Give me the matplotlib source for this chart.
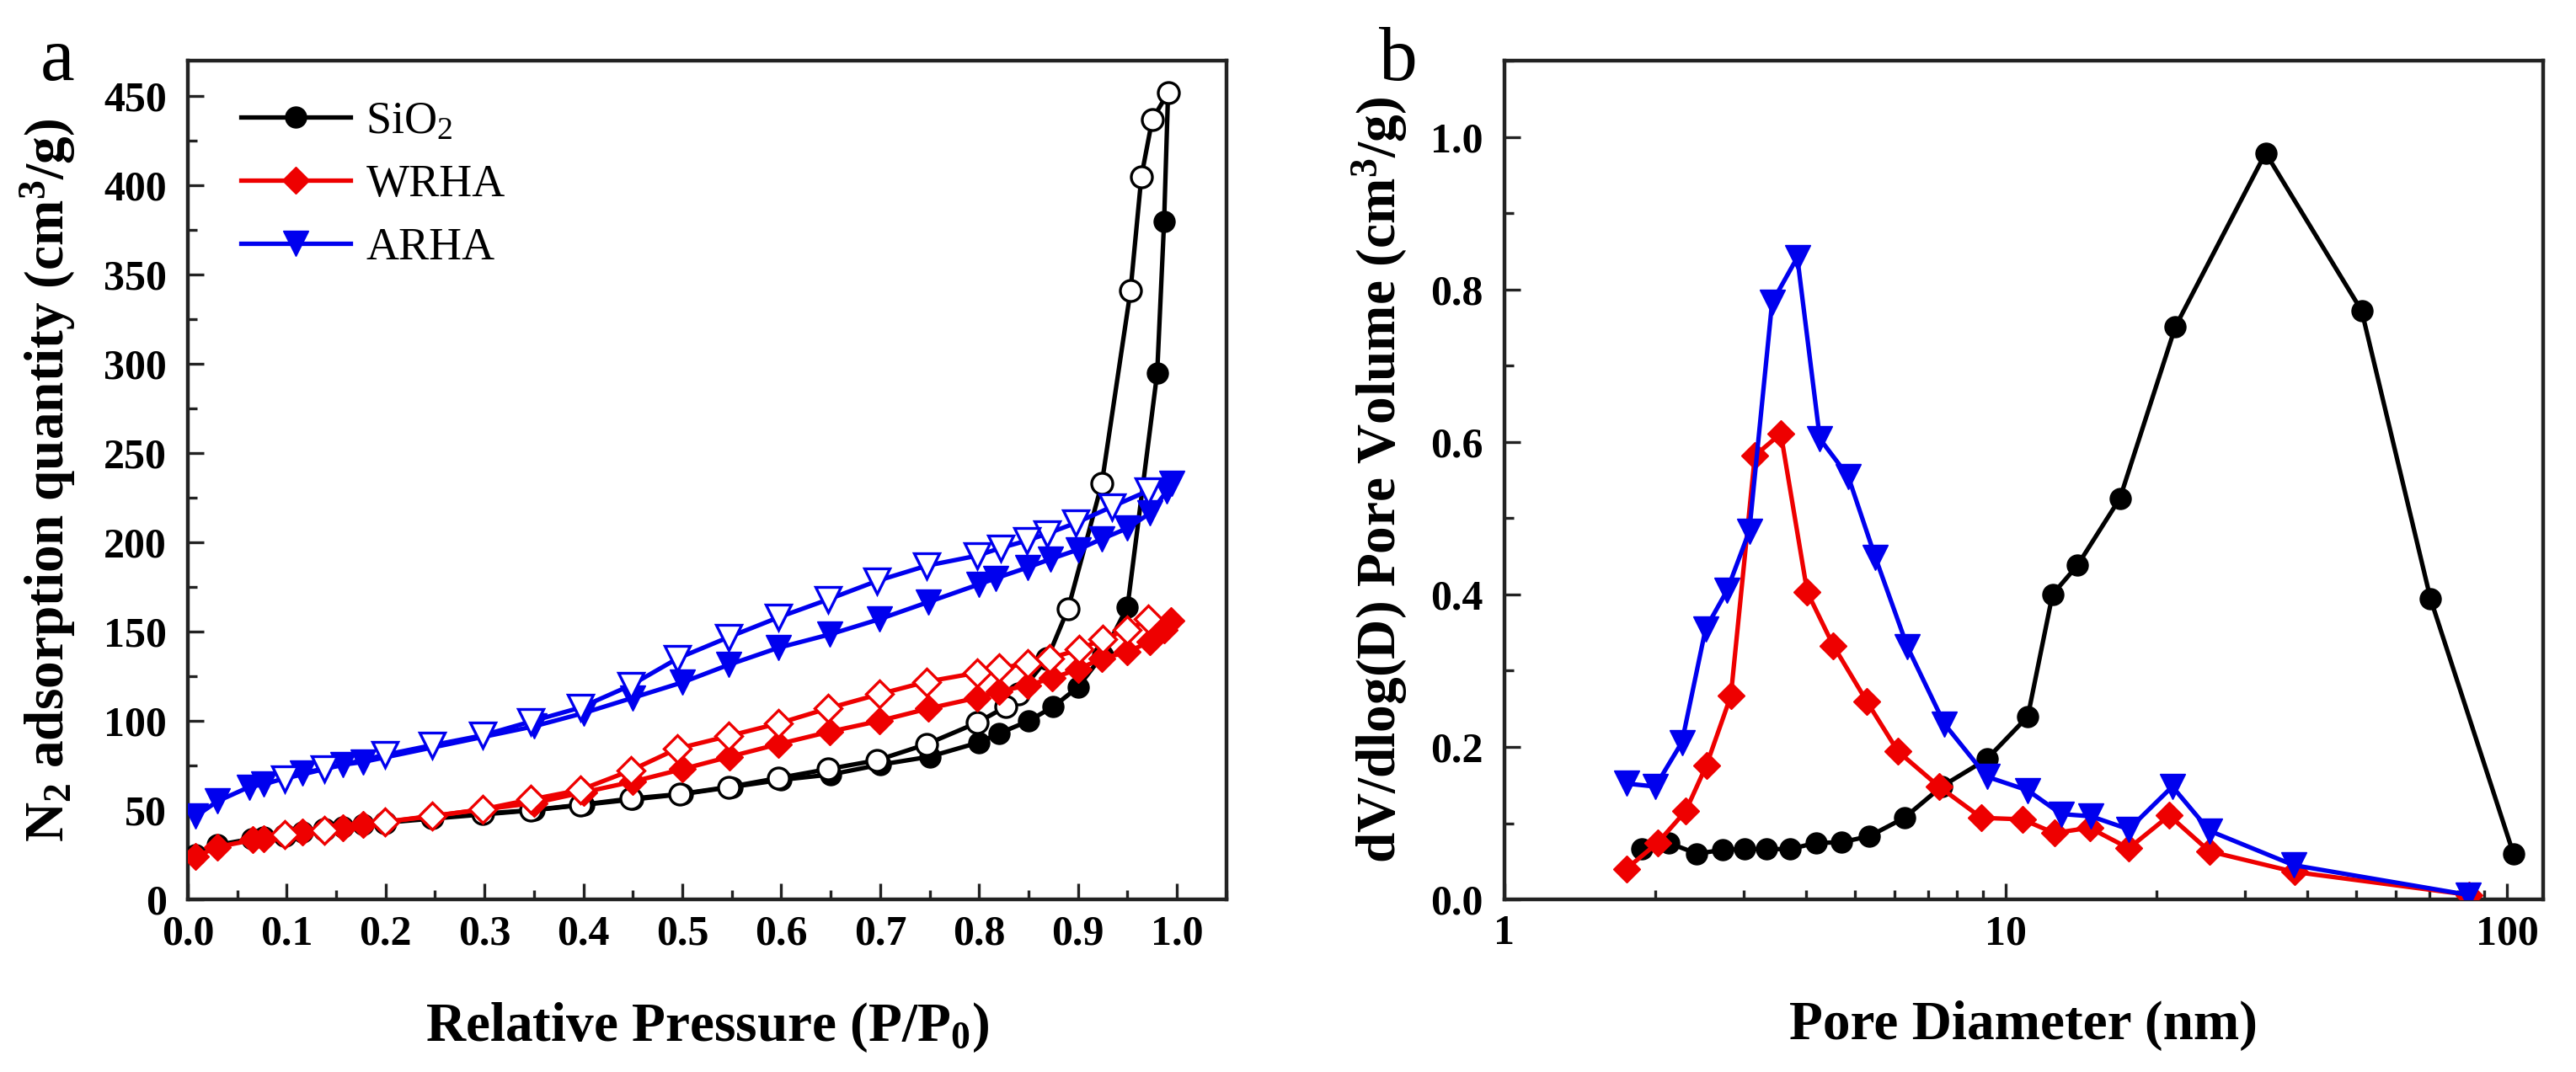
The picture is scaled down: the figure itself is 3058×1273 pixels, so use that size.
import matplotlib
matplotlib.use("Agg")
import matplotlib.pyplot as plt
from matplotlib.ticker import MultipleLocator, LogLocator, NullFormatter, FixedLocator, FixedFormatter

plt.rcParams['font.family'] = ['Liberation Serif', 'DejaVu Serif']
plt.rcParams['mathtext.fontset'] = 'custom'
plt.rcParams['mathtext.rm'] = 'Liberation Serif'
plt.rcParams['mathtext.bf'] = 'Liberation Serif:bold'
plt.rcParams['mathtext.it'] = 'Liberation Serif:italic'

# ---------------- Panel a data (N2 isotherms) ----------------
sio2_ads_p = [0.008, 0.03, 0.065, 0.077, 0.116, 0.157, 0.177, 0.35, 0.4, 0.45, 0.5, 0.55, 0.6, 0.65,
              0.7, 0.75, 0.8, 0.82, 0.85, 0.875, 0.9, 0.925, 0.95, 0.98, 0.987, 0.991]
sio2_ads_v = [25, 30.5, 34, 35, 38, 40.5, 42, 50, 53, 56, 59, 63, 67, 70,
              75.5, 80, 88, 93, 100, 108, 119, 137, 164, 295, 380, 452]
sio2_des_p = [0.991, 0.975, 0.964, 0.953, 0.924, 0.89, 0.869, 0.84, 0.827, 0.798, 0.747, 0.697,
              0.647, 0.597, 0.547, 0.497, 0.448, 0.397, 0.347, 0.298, 0.247, 0.199, 0.138, 0.098]
sio2_des_v = [452, 437, 405, 341, 233, 163, 135, 115, 108, 99, 87, 78,
              73, 68, 63, 59, 56.5, 53, 50, 48, 46, 43, 39, 36]

wrha_ads_p = [0.008, 0.03, 0.066, 0.077, 0.116, 0.157, 0.177, 0.35, 0.4, 0.45, 0.5, 0.548, 0.597,
              0.649, 0.699, 0.749, 0.798, 0.82, 0.849, 0.874, 0.9, 0.924, 0.95, 0.973, 0.987, 0.994]
wrha_ads_v = [24, 29.4, 33.3, 34, 38, 40.3, 41.9, 54, 60, 66, 73, 80, 87,
              94, 100, 107, 113, 116.5, 120, 124, 129, 135, 138.6, 144.6, 151, 156]
wrha_des_p = [0.971, 0.95, 0.925, 0.901, 0.871, 0.849, 0.82, 0.798, 0.747, 0.699, 0.647, 0.597,
              0.547, 0.495, 0.448, 0.397, 0.347, 0.298, 0.247, 0.199, 0.138, 0.098]
wrha_des_v = [157, 151, 146, 140, 135, 132, 129.7, 127, 122, 115, 107, 98.6,
              91.6, 84.5, 72.3, 61.4, 56, 50.5, 46.6, 43.4, 38.8, 36.4]

arha_ads_p = [0.008, 0.03, 0.062, 0.077, 0.116, 0.157, 0.177, 0.35, 0.4, 0.45, 0.5, 0.547, 0.597,
              0.649, 0.699, 0.749, 0.8, 0.817, 0.849, 0.872, 0.9, 0.924, 0.95, 0.973, 0.99, 0.995]
arha_ads_v = [46.6, 55, 63, 64.5, 70.8, 75.5, 77, 97, 104.4, 113, 121.6, 131.5, 141,
              148.5, 157, 166.7, 176.6, 180, 186, 190.7, 196, 202, 208, 216.5, 229, 233]
arha_des_p = [0.971, 0.934, 0.898, 0.869, 0.848, 0.822, 0.798, 0.747, 0.697, 0.647, 0.597, 0.547,
              0.495, 0.448, 0.397, 0.347, 0.298, 0.247, 0.199, 0.138, 0.098]
arha_des_v = [229, 220, 211, 205, 201, 197, 192.6, 187, 178.5, 168, 158, 147,
              135, 120, 107.5, 99.7, 91.9, 86.4, 81, 73, 67.7]

# ---------------- Panel b data (pore size distribution) ----------------
sio2_d = [1.88, 2.13, 2.42, 2.73, 3.01, 3.33, 3.71, 4.18, 4.71, 5.35, 6.28, 7.45, 9.17, 11.07,
          12.4, 13.9, 16.9, 21.8, 33.0, 51.3, 70.4, 103.0]
sio2_pv = [0.066, 0.074, 0.060, 0.065, 0.066, 0.066, 0.066, 0.074, 0.075, 0.083, 0.107, 0.148, 0.184, 0.240,
           0.400, 0.438, 0.526, 0.751, 0.979, 0.772, 0.394, 0.060]
wrha_d = [1.75, 2.02, 2.30, 2.53, 2.83, 3.16, 3.56, 4.02, 4.53, 5.28, 6.10, 7.36, 8.95, 10.8,
          12.5, 14.7, 17.6, 21.2, 25.5, 37.7, 83.9]
wrha_pv = [0.040, 0.074, 0.116, 0.176, 0.267, 0.582, 0.611, 0.403, 0.333, 0.260, 0.194, 0.148, 0.107, 0.105,
           0.087, 0.094, 0.067, 0.110, 0.063, 0.036, 0.006]
arha_d = [1.75, 2.00, 2.26, 2.52, 2.78, 3.08, 3.42, 3.84, 4.26, 4.85, 5.50, 6.37, 7.55, 9.17,
          11.07, 12.9, 14.8, 17.6, 21.5, 25.5, 37.5, 83.6]
arha_pv = [0.152, 0.148, 0.206, 0.355, 0.405, 0.483, 0.783, 0.842, 0.604, 0.555, 0.448, 0.331, 0.230, 0.161,
           0.143, 0.112, 0.109, 0.092, 0.148, 0.090, 0.045, 0.006]

labels = ["SiO$_\\mathrm{2}$", "WRHA", "ARHA"]
colors = ["#000000", "#EE0000", "#0000EE"]
markers = ["o", "D", "v"]
msizes = [18, 16, 21]

fig = plt.figure(figsize=(30.58, 12.73), dpi=100)
axa = fig.add_axes([0.0729, 0.161, 0.4032, 0.7824])
axb = fig.add_axes([0.584, 0.161, 0.4032, 0.7824])

lw = 3.8
ads = [(sio2_ads_p, sio2_ads_v), (wrha_ads_p, wrha_ads_v), (arha_ads_p, arha_ads_v)]
des = [(sio2_des_p, sio2_des_v), (wrha_des_p, wrha_des_v), (arha_des_p, arha_des_v)]
handles = []
for i in range(3):
    c = colors[i]
    h, = axa.plot(ads[i][0], ads[i][1], color=c, lw=lw, marker=markers[i], ms=msizes[i],
                  mfc=c, mec=c, label=labels[i], zorder=3)
    axa.plot(des[i][0], des[i][1], color=c, lw=lw, marker=markers[i], ms=msizes[i],
             mfc='white', mec=c, mew=2.4, zorder=3)
    handles.append(h)

axa.set_xlim(0, 1.05)
axa.set_ylim(0, 470)
axa.xaxis.set_major_locator(MultipleLocator(0.1))
axa.xaxis.set_minor_locator(MultipleLocator(0.05))
axa.yaxis.set_major_locator(MultipleLocator(50))
axa.yaxis.set_minor_locator(MultipleLocator(25))
axa.xaxis.set_major_formatter(plt.FuncFormatter(lambda v, p: f"{v:.1f}"))
axa.set_xlabel("Relative Pressure (P/P$_\\mathbf{0}$)", fontsize=47, fontweight='bold', labelpad=40)
axa.set_ylabel("N$_\\mathbf{2}$ adsorption quantity (cm$^\\mathbf{3}$/g)", fontsize=47,
               fontweight='bold', labelpad=22)

leg = axa.legend(handles=handles, loc='upper left', bbox_to_anchor=(0.02, 0.99), frameon=False,
                 fontsize=39, handlelength=2.4, handletextpad=0.35, labelspacing=0.45, borderpad=0.2)

markers_b = [(sio2_d, sio2_pv), (wrha_d, wrha_pv), (arha_d, arha_pv)]
for i in range(3):
    c = colors[i]
    axb.plot(markers_b[i][0], markers_b[i][1], color=c, lw=lw, marker=markers[i], ms=msizes[i],
             mfc=c, mec=c, zorder=3 + i * 0.1)

axb.set_xscale('log')
axb.set_xlim(1, 118)
axb.set_ylim(0, 1.1)
axb.xaxis.set_major_locator(FixedLocator([1, 10, 100]))
axb.xaxis.set_major_formatter(FixedFormatter(["1", "10", "100"]))
axb.xaxis.set_minor_locator(LogLocator(base=10, subs=[2, 3, 4, 5, 6, 7, 8, 9]))
axb.xaxis.set_minor_formatter(NullFormatter())
axb.yaxis.set_major_locator(MultipleLocator(0.2))
axb.yaxis.set_minor_locator(MultipleLocator(0.1))
axb.yaxis.set_major_formatter(plt.FuncFormatter(lambda v, p: f"{v:.1f}"))
axb.set_xlabel("Pore Diameter (nm)", fontsize=47, fontweight='bold', labelpad=40)
axb.set_ylabel("dV/dlog(D) Pore Volume (cm$^\\mathbf{3}$/g)", fontsize=47, fontweight='bold', labelpad=18)

for ax in (axa, axb):
    for s in ax.spines.values():
        s.set_linewidth(3.2)
        s.set_color('#222222')
    ax.tick_params(axis='both', which='both', direction='in', top=False, right=False,
                   width=2.4, color='#222222')
    ax.tick_params(axis='both', which='major', length=14, labelsize=36)
    ax.tick_params(axis='both', which='minor', length=8)
    ax.tick_params(axis='x', which='both', pad=13)
    ax.tick_params(axis='y', which='both', pad=18)
    for t in ax.get_xticklabels() + ax.get_yticklabels():
        t.set_fontweight('bold')

fig.text(0.0222, 0.9254, "a", fontsize=66, ha='center', va='baseline')
fig.text(0.5428, 0.9254, "b", fontsize=66, ha='center', va='baseline')

fig.savefig("out.png", dpi=100)
